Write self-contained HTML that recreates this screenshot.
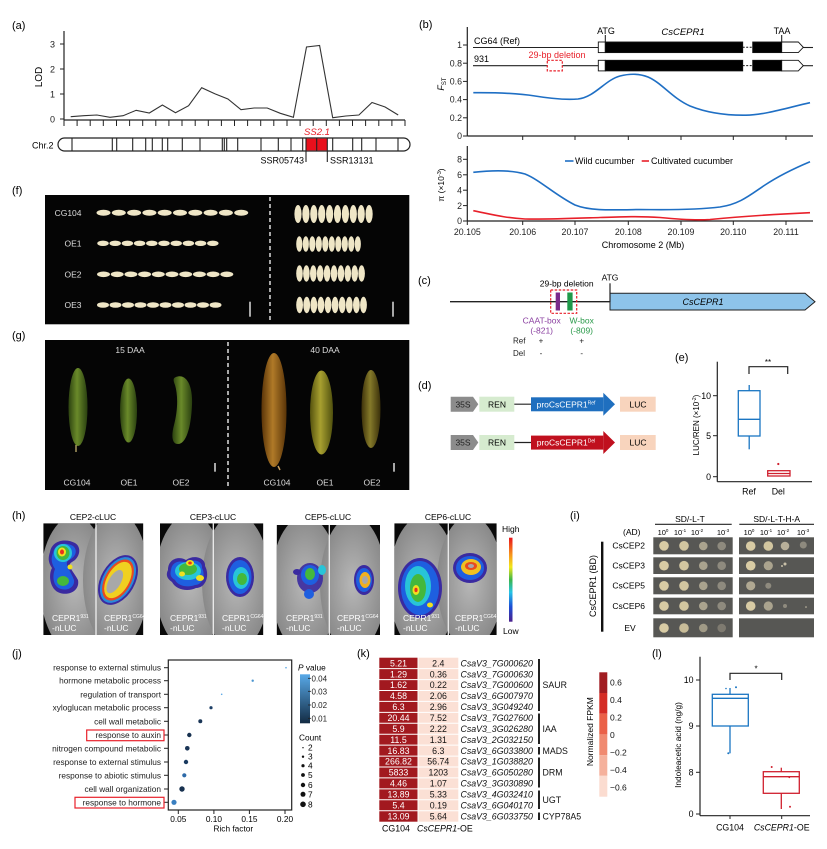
<!DOCTYPE html>
<html><head><meta charset="utf-8"><style>
html,body{margin:0;padding:0;background:#fff;}
svg{display:block;font-family:"Liberation Sans",Arial,sans-serif;}
</style></head><body>
<svg width="827" height="849" viewBox="0 0 827 849" xmlns="http://www.w3.org/2000/svg">
<defs>
<linearGradient id="heat" x1="0" y1="0" x2="0" y2="1">
<stop offset="0" stop-color="#e8141c"/><stop offset="0.2" stop-color="#f7941d"/><stop offset="0.35" stop-color="#f2e81a"/><stop offset="0.5" stop-color="#3cb54a"/><stop offset="0.65" stop-color="#27c4e6"/><stop offset="0.82" stop-color="#1b4fd6"/><stop offset="1" stop-color="#4b1f8c"/>
</linearGradient>
<linearGradient id="pval" x1="0" y1="0" x2="0" y2="1"><stop offset="0" stop-color="#58a9e8"/><stop offset="1" stop-color="#132b43"/></linearGradient>
<linearGradient id="cuc1" x1="0" y1="0" x2="1" y2="0"><stop offset="0" stop-color="#2c4210"/><stop offset="0.45" stop-color="#6a8a2a"/><stop offset="1" stop-color="#2a4010"/></linearGradient>
<linearGradient id="cuc2" x1="0" y1="0" x2="1" y2="0"><stop offset="0" stop-color="#5a3408"/><stop offset="0.45" stop-color="#b07a28"/><stop offset="1" stop-color="#5a3408"/></linearGradient>
<linearGradient id="cuc3" x1="0" y1="0" x2="1" y2="0"><stop offset="0" stop-color="#55520e"/><stop offset="0.45" stop-color="#a8a030"/><stop offset="1" stop-color="#50500e"/></linearGradient>
<linearGradient id="cuc4" x1="0" y1="0" x2="1" y2="0"><stop offset="0" stop-color="#3e320a"/><stop offset="0.45" stop-color="#857a2a"/><stop offset="1" stop-color="#3a300a"/></linearGradient>
<radialGradient id="leaf" cx="0.5" cy="0.5" r="0.6"><stop offset="0" stop-color="#b8b8b8"/><stop offset="1" stop-color="#808080"/></radialGradient>
<clipPath id="c1"><rect x="43.3" y="523.3" width="100" height="111.7"/></clipPath>
<clipPath id="c2"><rect x="160" y="523.3" width="103.3" height="111.7"/></clipPath>
<clipPath id="c3"><rect x="276.7" y="525" width="103.3" height="110"/></clipPath>
<clipPath id="c4"><rect x="394.3" y="523.3" width="102.4" height="111.7"/></clipPath>
</defs>

<!-- ===== Panel (a) ===== -->
<text x="12" y="29" font-size="11">(a)</text>
<line x1="64" y1="31" x2="64" y2="120" stroke="#222" stroke-width="1.2"/>
<g stroke="#222" stroke-width="1">
<line x1="60" y1="119" x2="64" y2="119"/><line x1="60" y1="94" x2="64" y2="94"/><line x1="60" y1="69" x2="64" y2="69"/><line x1="60" y1="44" x2="64" y2="44"/>
</g>
<g font-size="9" text-anchor="end" fill="#222">
<text x="55" y="122.5">0</text><text x="55" y="97.5">1</text><text x="55" y="72.5">2</text><text x="55" y="47.5">3</text>
</g>
<text transform="translate(42,77) rotate(-90)" font-size="10" text-anchor="middle">LOD</text>
<line x1="64" y1="120" x2="405" y2="120" stroke="#222" stroke-width="1.2"/>
<g stroke="#222" stroke-width="1">
<line x1="64" y1="120" x2="64" y2="126"/><line x1="77.1" y1="120" x2="77.1" y2="126"/><line x1="90.2" y1="120" x2="90.2" y2="126"/><line x1="103.3" y1="120" x2="103.3" y2="126"/><line x1="116.5" y1="120" x2="116.5" y2="126"/><line x1="129.6" y1="120" x2="129.6" y2="126"/><line x1="142.7" y1="120" x2="142.7" y2="126"/><line x1="155.8" y1="120" x2="155.8" y2="126"/><line x1="168.9" y1="120" x2="168.9" y2="126"/><line x1="182" y1="120" x2="182" y2="126"/><line x1="195.2" y1="120" x2="195.2" y2="126"/><line x1="208.3" y1="120" x2="208.3" y2="126"/><line x1="221.4" y1="120" x2="221.4" y2="126"/><line x1="234.5" y1="120" x2="234.5" y2="126"/><line x1="247.6" y1="120" x2="247.6" y2="126"/><line x1="260.7" y1="120" x2="260.7" y2="126"/><line x1="273.8" y1="120" x2="273.8" y2="126"/><line x1="287" y1="120" x2="287" y2="126"/><line x1="300.1" y1="120" x2="300.1" y2="126"/><line x1="313.2" y1="120" x2="313.2" y2="126"/><line x1="326.3" y1="120" x2="326.3" y2="126"/><line x1="339.4" y1="120" x2="339.4" y2="126"/><line x1="352.5" y1="120" x2="352.5" y2="126"/><line x1="365.6" y1="120" x2="365.6" y2="126"/><line x1="378.8" y1="120" x2="378.8" y2="126"/><line x1="391.9" y1="120" x2="391.9" y2="126"/><line x1="405" y1="120" x2="405" y2="126"/>
</g>
<polyline fill="none" stroke="#333" stroke-width="1.1" points="70.7,116.7 83.8,115.7 96.9,115 110,117.3 123.1,115.7 136.2,110.3 149.3,113 162.4,105 175.5,112.7 188.6,105.7 201.7,87.7 214.8,93.7 227.9,99 241,109.7 254.1,108 267.2,108 280.3,113.3 293.4,117.3 306.5,47 319.6,45.5 332.7,117.7 345.8,116 358.9,115 372,102.5 385.1,107 398.2,115"/>
<rect x="58" y="138" width="352" height="13" rx="6.5" ry="6.5" fill="#fff" stroke="#222" stroke-width="1.2"/>
<rect x="306" y="138.6" width="21.3" height="11.8" fill="#e8101c"/>
<g stroke="#222" stroke-width="1.1">
<line x1="72" y1="138" x2="72" y2="151"/><line x1="112.3" y1="138" x2="112.3" y2="151"/><line x1="116.7" y1="138" x2="116.7" y2="151"/><line x1="132.7" y1="138" x2="132.7" y2="151"/><line x1="145.7" y1="138" x2="145.7" y2="151"/><line x1="152.3" y1="138" x2="152.3" y2="151"/><line x1="162.3" y1="138" x2="162.3" y2="151"/><line x1="167.7" y1="138" x2="167.7" y2="151"/><line x1="182.3" y1="138" x2="182.3" y2="151"/><line x1="200" y1="138" x2="200" y2="151"/><line x1="222.3" y1="138" x2="222.3" y2="151"/><line x1="224.3" y1="138" x2="224.3" y2="151"/><line x1="226.7" y1="138" x2="226.7" y2="151"/><line x1="237.7" y1="138" x2="237.7" y2="151"/><line x1="261" y1="138" x2="261" y2="151"/><line x1="278.3" y1="138" x2="278.3" y2="151"/><line x1="291" y1="138" x2="291" y2="151"/><line x1="302.7" y1="138" x2="302.7" y2="151"/><line x1="306" y1="138" x2="306" y2="151"/><line x1="316.7" y1="138" x2="316.7" y2="151"/><line x1="327.3" y1="138" x2="327.3" y2="151"/><line x1="332.7" y1="138" x2="332.7" y2="151"/><line x1="352.7" y1="138" x2="352.7" y2="151"/><line x1="361.7" y1="138" x2="361.7" y2="151"/><line x1="376" y1="138" x2="376" y2="151"/><line x1="398" y1="138" x2="398" y2="151"/>
<line x1="306" y1="151" x2="306" y2="162"/><line x1="327.3" y1="151" x2="327.3" y2="162"/>
</g>
<text x="32" y="148.5" font-size="9">Chr.2</text>
<text x="317" y="135" font-size="9.5" font-style="italic" fill="#e8202a" text-anchor="middle">SS2.1</text>
<text x="304" y="163.5" font-size="9" text-anchor="end">SSR05743</text>
<text x="330" y="163.5" font-size="9">SSR13131</text>

<!-- ===== Panel (b) ===== -->
<text x="419" y="28" font-size="11">(b)</text>
<line x1="467.3" y1="27" x2="467.3" y2="136" stroke="#222" stroke-width="1.2"/>
<line x1="467.3" y1="136" x2="813" y2="136" stroke="#222" stroke-width="1.2"/>
<g stroke="#222" stroke-width="1">
<line x1="463" y1="45" x2="467.3" y2="45"/><line x1="463" y1="63.2" x2="467.3" y2="63.2"/><line x1="463" y1="81.4" x2="467.3" y2="81.4"/><line x1="463" y1="99.6" x2="467.3" y2="99.6"/><line x1="463" y1="117.8" x2="467.3" y2="117.8"/><line x1="463" y1="136" x2="467.3" y2="136"/>
<line x1="522.7" y1="136" x2="522.7" y2="140"/><line x1="575" y1="136" x2="575" y2="140"/><line x1="628.3" y1="136" x2="628.3" y2="140"/><line x1="681" y1="136" x2="681" y2="140"/><line x1="733.3" y1="136" x2="733.3" y2="140"/><line x1="786" y1="136" x2="786" y2="140"/>
</g>
<g font-size="8.8" text-anchor="end" fill="#222">
<text x="462" y="48">1</text><text x="462" y="66.3">0.8</text><text x="462" y="84.5">0.6</text><text x="462" y="102.7">0.4</text><text x="462" y="120.9">0.2</text><text x="462" y="139">0</text>
</g>
<text transform="translate(444,84) rotate(-90)" font-size="9" text-anchor="middle"><tspan font-style="italic">F</tspan><tspan font-size="6" dy="2">ST</tspan></text>
<line x1="473" y1="47.5" x2="598" y2="47.5" stroke="#222" stroke-width="1.1"/>
<line x1="803" y1="47.5" x2="813" y2="47.5" stroke="#222" stroke-width="1.1"/>
<line x1="473" y1="65.7" x2="598" y2="65.7" stroke="#222" stroke-width="1.1"/>
<line x1="803" y1="65.7" x2="813" y2="65.7" stroke="#222" stroke-width="1.1"/>
<text x="474" y="44" font-size="9">CG64 (Ref)</text>
<text x="474" y="62" font-size="9">931</text>
<g stroke="#111" stroke-width="0.9">
<rect x="598.3" y="42" width="7" height="10.6" fill="#fff"/>
<rect x="605.3" y="42" width="137.4" height="10.6" fill="#000"/>
<rect x="752.7" y="42" width="29" height="10.6" fill="#000"/>
<polygon points="781.7,42 798.3,42 803.3,47.3 798.3,52.6 781.7,52.6" fill="#fff"/>
<rect x="598.3" y="60.3" width="7" height="10.6" fill="#fff"/>
<rect x="605.3" y="60.3" width="137.4" height="10.6" fill="#000"/>
<rect x="752.7" y="60.3" width="29" height="10.6" fill="#000"/>
<polygon points="781.7,60.3 798.3,60.3 803.3,65.6 798.3,70.9 781.7,70.9" fill="#fff"/>
</g>
<line x1="742.7" y1="47.3" x2="752.7" y2="47.3" stroke="#111" stroke-width="1" stroke-dasharray="2,1.5"/>
<line x1="742.7" y1="65.6" x2="752.7" y2="65.6" stroke="#111" stroke-width="1" stroke-dasharray="2,1.5"/>
<line x1="605.3" y1="35" x2="605.3" y2="42" stroke="#111" stroke-width="1"/>
<line x1="781.7" y1="35" x2="781.7" y2="42" stroke="#111" stroke-width="1"/>
<text x="606" y="34" font-size="9" text-anchor="middle">ATG</text>
<text x="782" y="34" font-size="9" text-anchor="middle">TAA</text>
<text x="683" y="35" font-size="9.5" font-style="italic" text-anchor="middle">CsCEPR1</text>
<text x="557" y="58" font-size="9" fill="#e8202a" text-anchor="middle">29-bp deletion</text>
<rect x="547.3" y="60.3" width="15" height="10.6" fill="#fff" stroke="#e8202a" stroke-width="1.2" stroke-dasharray="2.5,1.5"/>
<path d="M473.3,92.7 C495,92.5 515,92.8 535,96 C552,98.8 565,100 578,99 C595,97 605,80 620,76 C628,74 638,73 648,77 C662,83 672,98 690,106 C705,112 725,115.5 746,115.2 C765,115 790,107 810,102.7" fill="none" stroke="#1f6fc4" stroke-width="1.6"/>
<line x1="467.3" y1="146" x2="467.3" y2="221" stroke="#222" stroke-width="1.2"/>
<line x1="467.3" y1="221" x2="813" y2="221" stroke="#222" stroke-width="1.2"/>
<g stroke="#222" stroke-width="1">
<line x1="463" y1="159.3" x2="467.3" y2="159.3"/><line x1="463" y1="174.8" x2="467.3" y2="174.8"/><line x1="463" y1="190.2" x2="467.3" y2="190.2"/><line x1="463" y1="205.6" x2="467.3" y2="205.6"/><line x1="463" y1="221" x2="467.3" y2="221"/>
<line x1="467.3" y1="221" x2="467.3" y2="225"/><line x1="522.7" y1="221" x2="522.7" y2="225"/><line x1="575" y1="221" x2="575" y2="225"/><line x1="628.3" y1="221" x2="628.3" y2="225"/><line x1="681" y1="221" x2="681" y2="225"/><line x1="733.3" y1="221" x2="733.3" y2="225"/><line x1="786" y1="221" x2="786" y2="225"/>
</g>
<g font-size="8.8" text-anchor="end" fill="#222">
<text x="462" y="162.5">8</text><text x="462" y="178">6</text><text x="462" y="193.4">4</text><text x="462" y="208.8">2</text><text x="462" y="224.2">0</text>
</g>
<g font-size="8.8" text-anchor="middle" fill="#222">
<text x="467.3" y="235">20.105</text><text x="522.7" y="235">20.106</text><text x="575" y="235">20.107</text><text x="628.3" y="235">20.108</text><text x="681" y="235">20.109</text><text x="733.3" y="235">20.110</text><text x="786" y="235">20.111</text>
</g>
<text x="643" y="248" font-size="9" text-anchor="middle">Chromosome 2 (Mb)</text>
<text transform="translate(444,185) rotate(-90)" font-size="8.5" text-anchor="middle">π (×10<tspan font-size="5.5" dy="-3">-3</tspan><tspan dy="3">)</tspan></text>
<path d="M473.3,172.3 C490,170.5 510,169.5 525,174 C540,180 555,195 575,205 C590,211 610,210 640,209.5 C670,210 700,209.5 720,207 C740,204 750,195 765,185 C780,175 795,168 810,161.7" fill="none" stroke="#1f6fc4" stroke-width="1.6"/>
<path d="M473.3,210.7 C490,214 505,218 525,219 C545,219.5 570,218.5 600,217.5 C620,216.8 640,216 660,217.5 C680,219.5 695,220.5 710,219.5 C735,217 770,214.5 810,212.7" fill="none" stroke="#e8202a" stroke-width="1.6"/>
<line x1="565" y1="161" x2="573.5" y2="161" stroke="#1f6fc4" stroke-width="1.6"/>
<text x="575" y="164.2" font-size="9">Wild cucumber</text>
<line x1="641.7" y1="161" x2="649" y2="161" stroke="#e8202a" stroke-width="1.6"/>
<text x="651" y="164.2" font-size="9">Cultivated cucumber</text>

<!-- ===== Panel (f) ===== -->
<text x="12" y="194" font-size="11">(f)</text>
<rect x="45" y="195" width="364.3" height="129.3" fill="#050505"/>
<line x1="270" y1="197" x2="270" y2="323" stroke="#fff" stroke-width="1.3" stroke-dasharray="4,3"/>
<g font-size="8.5" fill="#ddd" text-anchor="end">
<text x="81.5" y="216">CG104</text><text x="81.5" y="246.5">OE1</text><text x="81.5" y="277.5">OE2</text><text x="81.5" y="308">OE3</text>
</g>
<g fill="#efe6c6">
<ellipse cx="103.5" cy="212.7" rx="7" ry="3"/><ellipse cx="118.8" cy="212.7" rx="7" ry="3"/><ellipse cx="134.1" cy="212.7" rx="7" ry="3"/><ellipse cx="149.4" cy="212.7" rx="7" ry="3"/><ellipse cx="164.7" cy="212.7" rx="7" ry="3"/><ellipse cx="180" cy="212.7" rx="7" ry="3"/><ellipse cx="195.3" cy="212.7" rx="7" ry="3"/><ellipse cx="210.6" cy="212.7" rx="7" ry="3"/><ellipse cx="225.9" cy="212.7" rx="7" ry="3"/><ellipse cx="241.2" cy="212.7" rx="7" ry="3"/>
<ellipse cx="103" cy="243.3" rx="5.8" ry="2.7"/><ellipse cx="115.2" cy="243.3" rx="5.8" ry="2.7"/><ellipse cx="127.4" cy="243.3" rx="5.8" ry="2.7"/><ellipse cx="139.6" cy="243.3" rx="5.8" ry="2.7"/><ellipse cx="151.8" cy="243.3" rx="5.8" ry="2.7"/><ellipse cx="164" cy="243.3" rx="5.8" ry="2.7"/><ellipse cx="176.2" cy="243.3" rx="5.8" ry="2.7"/><ellipse cx="188.4" cy="243.3" rx="5.8" ry="2.7"/><ellipse cx="200.6" cy="243.3" rx="5.8" ry="2.7"/><ellipse cx="212.8" cy="243.3" rx="5.8" ry="2.7"/>
<ellipse cx="103.5" cy="274.3" rx="6.5" ry="2.8"/><ellipse cx="117.2" cy="274.3" rx="6.5" ry="2.8"/><ellipse cx="130.9" cy="274.3" rx="6.5" ry="2.8"/><ellipse cx="144.6" cy="274.3" rx="6.5" ry="2.8"/><ellipse cx="158.3" cy="274.3" rx="6.5" ry="2.8"/><ellipse cx="172" cy="274.3" rx="6.5" ry="2.8"/><ellipse cx="185.7" cy="274.3" rx="6.5" ry="2.8"/><ellipse cx="199.4" cy="274.3" rx="6.5" ry="2.8"/><ellipse cx="213.1" cy="274.3" rx="6.5" ry="2.8"/><ellipse cx="226.8" cy="274.3" rx="6.5" ry="2.8"/>
<ellipse cx="103" cy="305" rx="6" ry="2.8"/><ellipse cx="115.5" cy="305" rx="6" ry="2.8"/><ellipse cx="128" cy="305" rx="6" ry="2.8"/><ellipse cx="140.5" cy="305" rx="6" ry="2.8"/><ellipse cx="153" cy="305" rx="6" ry="2.8"/><ellipse cx="165.5" cy="305" rx="6" ry="2.8"/><ellipse cx="178" cy="305" rx="6" ry="2.8"/><ellipse cx="190.5" cy="305" rx="6" ry="2.8"/><ellipse cx="203" cy="305" rx="6" ry="2.8"/><ellipse cx="215.5" cy="305" rx="6" ry="2.8"/>
<ellipse cx="298" cy="214" rx="3.6" ry="9"/><ellipse cx="305.9" cy="214" rx="3.6" ry="9"/><ellipse cx="313.8" cy="214" rx="3.6" ry="9"/><ellipse cx="321.7" cy="214" rx="3.6" ry="9"/><ellipse cx="329.6" cy="214" rx="3.6" ry="9"/><ellipse cx="337.5" cy="214" rx="3.6" ry="9"/><ellipse cx="345.4" cy="214" rx="3.6" ry="9"/><ellipse cx="353.3" cy="214" rx="3.6" ry="9"/><ellipse cx="361.2" cy="214" rx="3.6" ry="9"/><ellipse cx="369.1" cy="214" rx="3.6" ry="9"/>
<ellipse cx="299.3" cy="244" rx="3.1" ry="7.8"/><ellipse cx="305.8" cy="244" rx="3.1" ry="7.8"/><ellipse cx="312.3" cy="244" rx="3.1" ry="7.8"/><ellipse cx="318.8" cy="244" rx="3.1" ry="7.8"/><ellipse cx="325.3" cy="244" rx="3.1" ry="7.8"/><ellipse cx="331.8" cy="244" rx="3.1" ry="7.8"/><ellipse cx="338.3" cy="244" rx="3.1" ry="7.8"/><ellipse cx="344.8" cy="244" rx="3.1" ry="7.8"/><ellipse cx="351.3" cy="244" rx="3.1" ry="7.8"/><ellipse cx="357.8" cy="244" rx="3.1" ry="7.8"/>
<ellipse cx="299.5" cy="273.5" rx="3.3" ry="8.2"/><ellipse cx="306.4" cy="273.5" rx="3.3" ry="8.2"/><ellipse cx="313.3" cy="273.5" rx="3.3" ry="8.2"/><ellipse cx="320.2" cy="273.5" rx="3.3" ry="8.2"/><ellipse cx="327.1" cy="273.5" rx="3.3" ry="8.2"/><ellipse cx="334" cy="273.5" rx="3.3" ry="8.2"/><ellipse cx="340.9" cy="273.5" rx="3.3" ry="8.2"/><ellipse cx="347.8" cy="273.5" rx="3.3" ry="8.2"/><ellipse cx="354.7" cy="273.5" rx="3.3" ry="8.2"/><ellipse cx="361.6" cy="273.5" rx="3.3" ry="8.2"/>
<ellipse cx="299.6" cy="305" rx="3.4" ry="8.2"/><ellipse cx="306.7" cy="305" rx="3.4" ry="8.2"/><ellipse cx="313.8" cy="305" rx="3.4" ry="8.2"/><ellipse cx="320.9" cy="305" rx="3.4" ry="8.2"/><ellipse cx="328" cy="305" rx="3.4" ry="8.2"/><ellipse cx="335.1" cy="305" rx="3.4" ry="8.2"/><ellipse cx="342.2" cy="305" rx="3.4" ry="8.2"/><ellipse cx="349.3" cy="305" rx="3.4" ry="8.2"/><ellipse cx="356.4" cy="305" rx="3.4" ry="8.2"/><ellipse cx="363.5" cy="305" rx="3.4" ry="8.2"/>
</g>
<line x1="250" y1="301.7" x2="250" y2="316.7" stroke="#fff" stroke-width="1.3"/>
<line x1="393" y1="301.7" x2="393" y2="316.7" stroke="#fff" stroke-width="1.3"/>

<!-- ===== Panel (g) ===== -->
<text x="12" y="339" font-size="11">(g)</text>
<rect x="45" y="340" width="364.3" height="150" fill="#050505"/>
<line x1="228" y1="342" x2="228" y2="488" stroke="#fff" stroke-width="1.3" stroke-dasharray="4,3"/>
<text x="130" y="353" font-size="8.5" fill="#ddd" text-anchor="middle">15 DAA</text>
<text x="325" y="353" font-size="8.5" fill="#ddd" text-anchor="middle">40 DAA</text>
<ellipse cx="78" cy="407" rx="9.5" ry="39" fill="url(#cuc1)"/>
<line x1="76" y1="445" x2="76" y2="452" stroke="#a89a60" stroke-width="1.5"/>
<ellipse cx="128.5" cy="410.5" rx="8.5" ry="32" fill="url(#cuc1)"/>
<path d="M176,377 C186,373 193,385 192,405 C191,428 186,444 178,444 C172,444 171,436 174,425 C178,410 178,395 175,385 C173,380 173,378 176,377 Z" fill="url(#cuc1)"/>
<ellipse cx="274" cy="410" rx="12.5" ry="57" fill="url(#cuc2)"/>
<line x1="278" y1="466" x2="280" y2="470" stroke="#c8a060" stroke-width="1.5"/>
<ellipse cx="321.5" cy="412.5" rx="11.5" ry="42" fill="url(#cuc3)"/>
<ellipse cx="371" cy="409" rx="9.5" ry="39" fill="url(#cuc4)"/>
<line x1="215" y1="463" x2="215" y2="471.7" stroke="#fff" stroke-width="1.3"/>
<line x1="394" y1="463" x2="394" y2="471.7" stroke="#fff" stroke-width="1.3"/>
<g font-size="8.5" fill="#ddd" text-anchor="middle">
<text x="77" y="485.5">CG104</text><text x="129" y="485.5">OE1</text><text x="181" y="485.5">OE2</text>
<text x="277" y="485.5">CG104</text><text x="325" y="485.5">OE1</text><text x="372" y="485.5">OE2</text>
</g>

<!-- ===== Panel (c) ===== -->
<text x="418" y="284" font-size="11">(c)</text>
<line x1="450" y1="301.7" x2="610" y2="301.7" stroke="#222" stroke-width="1.3"/>
<polygon points="610,293.3 805,293.3 815,301.7 805,310 610,310" fill="#8ec4ea" stroke="#222" stroke-width="1"/>
<text x="703" y="305" font-size="9" font-style="italic" text-anchor="middle">CsCEPR1</text>
<line x1="610" y1="283.3" x2="610" y2="302" stroke="#222" stroke-width="1.2"/>
<text x="610" y="280.5" font-size="8.5" text-anchor="middle">ATG</text>
<text x="566.7" y="286.5" font-size="8.5" text-anchor="middle">29-bp deletion</text>
<rect x="550.7" y="290" width="26" height="23.3" fill="none" stroke="#e8202a" stroke-width="1.2" stroke-dasharray="2.5,1.5"/>
<rect x="555.7" y="292.5" width="4.3" height="18" fill="#7a2a8c"/>
<rect x="567.3" y="292.5" width="5.3" height="18" fill="#1f9a4a"/>
<text x="541.7" y="323.5" font-size="8.5" fill="#8a3fa0" text-anchor="middle">CAAT-box</text>
<text x="541.7" y="333.5" font-size="8.5" fill="#8a3fa0" text-anchor="middle">(-821)</text>
<text x="581.7" y="323.5" font-size="8.5" fill="#2a9a4a" text-anchor="middle">W-box</text>
<text x="581.7" y="333.5" font-size="8.5" fill="#2a9a4a" text-anchor="middle">(-809)</text>
<g font-size="8" fill="#222">
<text x="513" y="343.5">Ref</text><text x="513" y="356">Del</text>
<text x="541" y="343.5" text-anchor="middle">+</text><text x="581.7" y="343.5" text-anchor="middle">+</text>
<text x="541" y="356" text-anchor="middle">-</text><text x="581.7" y="356" text-anchor="middle">-</text>
</g>

<!-- ===== Panel (d) ===== -->
<text x="418" y="389" font-size="11">(d)</text>
<g>
<polygon points="450.7,396.7 473,396.7 478.3,404.2 473,411.7 450.7,411.7" fill="#8c8c8c"/>
<text x="463" y="407.3" font-size="8.5" text-anchor="middle" fill="#222">35S</text>
<rect x="479.3" y="396.7" width="35" height="15" fill="#d6ebcf"/>
<text x="497" y="407.3" font-size="8.5" text-anchor="middle">REN</text>
<line x1="514.3" y1="404.2" x2="531" y2="404.2" stroke="#222" stroke-width="1.2"/>
<rect x="531" y="397.3" width="72.3" height="14" fill="#1f6fbf"/>
<polygon points="603.3,392.7 615,404.2 603.3,415.7" fill="#1f6fbf"/>
<text x="566" y="407.3" font-size="8.5" text-anchor="middle" fill="#fff">proCsCEPR1<tspan font-size="5" dy="-3">Ref</tspan></text>
<rect x="620" y="396.7" width="35.7" height="15" fill="#f8d4bd"/>
<text x="638" y="407.3" font-size="8.5" text-anchor="middle">LUC</text>
</g>
<g>
<polygon points="450.7,435 473,435 478.3,442.5 473,450 450.7,450" fill="#8c8c8c"/>
<text x="463" y="445.6" font-size="8.5" text-anchor="middle" fill="#222">35S</text>
<rect x="479.3" y="435" width="35" height="15" fill="#d6ebcf"/>
<text x="497" y="445.6" font-size="8.5" text-anchor="middle">REN</text>
<line x1="514.3" y1="442.5" x2="531" y2="442.5" stroke="#222" stroke-width="1.2"/>
<rect x="531" y="435.6" width="72.3" height="14" fill="#c0101e"/>
<polygon points="603.3,431 615,442.5 603.3,454" fill="#c0101e"/>
<text x="566" y="445.6" font-size="8.5" text-anchor="middle" fill="#fff">proCsCEPR1<tspan font-size="5" dy="-3">Del</tspan></text>
<rect x="620" y="435" width="35.7" height="15" fill="#f8d4bd"/>
<text x="638" y="445.6" font-size="8.5" text-anchor="middle">LUC</text>
</g>

<!-- ===== Panel (e) ===== -->
<text x="675" y="361" font-size="11">(e)</text>
<line x1="717.3" y1="361.7" x2="717.3" y2="481.7" stroke="#222" stroke-width="1.2"/>
<line x1="717.3" y1="481.7" x2="812" y2="481.7" stroke="#222" stroke-width="1.2"/>
<g stroke="#222" stroke-width="1">
<line x1="713" y1="395.7" x2="717.3" y2="395.7"/><line x1="713" y1="435.7" x2="717.3" y2="435.7"/><line x1="713" y1="476.7" x2="717.3" y2="476.7"/>
</g>
<g font-size="8.8" text-anchor="end"><text x="711" y="398.8">10</text><text x="711" y="438.8">5</text><text x="711" y="479.8">0</text></g>
<text transform="translate(699,425) rotate(-90)" font-size="8" text-anchor="middle">LUC/REN (×10<tspan font-size="5" dy="-3">-2</tspan><tspan dy="3">)</tspan></text>
<g stroke="#1a75c2" stroke-width="1.3" fill="none">
<rect x="738.3" y="390.7" width="21.7" height="45.3"/>
<line x1="738.3" y1="419.3" x2="760" y2="419.3"/>
<line x1="749.2" y1="385" x2="749.2" y2="390.7"/>
<line x1="749.2" y1="436" x2="749.2" y2="449.3"/>
</g>
<g stroke="#d0202e" stroke-width="1.3" fill="none">
<rect x="767.7" y="470.7" width="22.3" height="5.3"/>
<line x1="767.7" y1="473.5" x2="790" y2="473.5"/>
</g>
<circle cx="778.3" cy="464" r="1.1" fill="#d0202e"/>
<path d="M749,374 V366.7 H787.7 V374" fill="none" stroke="#222" stroke-width="1.2"/>
<text x="768" y="365" font-size="8" text-anchor="middle">**</text>
<text x="749" y="494.5" font-size="8.8" text-anchor="middle">Ref</text>
<text x="778.3" y="494.5" font-size="8.8" text-anchor="middle">Del</text>

<!-- ===== Panel (h) ===== -->
<text x="12" y="519" font-size="11">(h)</text>
<g font-size="8.5" text-anchor="middle">
<text x="93" y="520">CEP2-cLUC</text><text x="213" y="520">CEP3-cLUC</text><text x="328" y="520">CEP5-cLUC</text><text x="448" y="520">CEP6-cLUC</text>
</g>
<g clip-path="url(#c1)">
<rect x="43.3" y="523.3" width="100" height="111.7" fill="#0a0a0a"/>
<ellipse cx="74" cy="584" rx="34" ry="68" fill="url(#leaf)"/>
<ellipse cx="116" cy="580" rx="33" ry="68" fill="url(#leaf)"/>
<path d="M50,552 C52,540 66,538 75,543 C82,547 80,558 72,562 C66,565 74,572 78,580 C80,590 70,596 60,593 C50,590 48,575 52,568 C48,562 48,558 50,552 Z" fill="#3a2aa0"/>
<path d="M53,553 C55,543 66,542 73,546 C78,550 76,557 69,560 C63,563 71,571 74,580 C75,587 68,591 61,589 C53,587 52,576 55,569 C51,563 51,558 53,553 Z" fill="#1e5fe0"/>
<ellipse cx="63" cy="553" rx="9" ry="9" fill="#28c4d8"/>
<ellipse cx="63" cy="553" rx="6.5" ry="7" fill="#44b83c"/>
<ellipse cx="63" cy="581" rx="6" ry="5" fill="#44b83c"/>
<ellipse cx="62" cy="552" rx="4" ry="4.5" fill="#f0e020"/>
<ellipse cx="62" cy="552" rx="2" ry="2.5" fill="#e83020"/>
<ellipse cx="70" cy="567" rx="2.5" ry="2.5" fill="#f0e020"/>
<ellipse cx="118" cy="580" rx="17" ry="27" transform="rotate(30 118 580)" fill="#3a2aa0"/>
<ellipse cx="118" cy="580" rx="15" ry="25" transform="rotate(30 118 580)" fill="#2a8ad8"/>
<ellipse cx="118" cy="580" rx="13" ry="22.5" transform="rotate(30 118 580)" fill="#e84a20"/>
<ellipse cx="118" cy="580" rx="11" ry="20" transform="rotate(30 118 580)" fill="#f0d020"/>
<ellipse cx="116" cy="583" rx="6" ry="13" transform="rotate(30 118 580)" fill="#a8a8a8"/>
<line x1="96" y1="523" x2="96" y2="635" stroke="#eee" stroke-width="1.3"/>
</g>
<g clip-path="url(#c2)">
<rect x="160" y="523.3" width="103.3" height="111.7" fill="#0a0a0a"/>
<ellipse cx="190" cy="582" rx="35" ry="68" fill="url(#leaf)"/>
<ellipse cx="236" cy="582" rx="34" ry="68" fill="url(#leaf)"/>
<path d="M168,570 C168,558 180,556 186,560 C194,554 206,558 205,566 C210,575 206,588 196,588 C188,592 176,590 172,582 C166,578 166,574 168,570 Z" fill="#3a2aa0"/>
<path d="M171,570 C172,561 181,560 186,563 C193,558 203,561 202,568 C206,576 202,585 195,585 C188,588 178,586 175,580 C170,577 170,574 171,570 Z" fill="#1e5fe0"/>
<ellipse cx="188" cy="571" rx="13" ry="9" fill="#28c4d8"/>
<ellipse cx="188" cy="569" rx="9" ry="6" fill="#44b83c"/>
<ellipse cx="190" cy="563" rx="4" ry="3" fill="#f0e020"/>
<ellipse cx="200" cy="578" rx="4" ry="3" fill="#f0e020"/>
<ellipse cx="182" cy="574" rx="3" ry="2.5" fill="#f0e020"/>
<ellipse cx="190" cy="563" rx="1.8" ry="1.5" fill="#e83020"/>
<ellipse cx="240" cy="577" rx="14" ry="20" fill="#3a2aa0"/>
<ellipse cx="240" cy="577" rx="11.5" ry="17" fill="#1e5fe0"/>
<ellipse cx="241" cy="578" rx="8" ry="11" fill="#28c4d8"/>
<ellipse cx="242" cy="579" rx="5" ry="6" fill="#44b83c"/>
<line x1="213.3" y1="523" x2="213.3" y2="635" stroke="#eee" stroke-width="1.3"/>
</g>
<g clip-path="url(#c3)">
<rect x="276.7" y="525" width="103.3" height="110" fill="#0a0a0a"/>
<ellipse cx="305" cy="584" rx="34" ry="68" fill="url(#leaf)"/>
<ellipse cx="353" cy="584" rx="33" ry="68" fill="url(#leaf)"/>
<ellipse cx="310" cy="578" rx="13" ry="15" fill="#3a2aa0" opacity="0.9"/>
<ellipse cx="310" cy="575" rx="9" ry="10" fill="#1e5fe0"/>
<ellipse cx="310" cy="574" rx="5" ry="6" fill="#44b83c"/>
<ellipse cx="309" cy="594" rx="5" ry="5" fill="#1e5fe0"/>
<ellipse cx="322" cy="570" rx="4" ry="5" fill="#28c4d8"/>
<ellipse cx="297" cy="572" rx="4" ry="3" fill="#3a2aa0"/>
<ellipse cx="364" cy="580" rx="10" ry="15" fill="#3a2aa0"/>
<ellipse cx="364" cy="580" rx="8" ry="12" fill="#1e5fe0"/>
<ellipse cx="365" cy="580" rx="5.5" ry="8" fill="#f0b020"/>
<ellipse cx="365" cy="580" rx="3" ry="4" fill="#a8a8a8"/>
<line x1="329.3" y1="525" x2="329.3" y2="635" stroke="#eee" stroke-width="1.3"/>
</g>
<g clip-path="url(#c4)">
<rect x="394.3" y="523.3" width="102.4" height="111.7" fill="#0a0a0a"/>
<ellipse cx="423" cy="584" rx="34" ry="68" fill="url(#leaf)"/>
<ellipse cx="470" cy="582" rx="33" ry="66" fill="url(#leaf)"/>
<ellipse cx="420" cy="588" rx="22" ry="30" fill="#3a2aa0"/>
<ellipse cx="420" cy="588" rx="19" ry="27" fill="#1e5fe0"/>
<ellipse cx="418" cy="586" rx="13" ry="20" fill="#28c4d8"/>
<ellipse cx="418" cy="588" rx="8" ry="14" fill="#44b83c"/>
<ellipse cx="416" cy="590" rx="3.5" ry="5" fill="#f0e020"/>
<ellipse cx="416" cy="590" rx="1.6" ry="2.2" fill="#e83020"/>
<ellipse cx="430" cy="605" rx="3" ry="2.5" fill="#f0e020"/>
<ellipse cx="470" cy="568" rx="17" ry="15" fill="#3a2aa0"/>
<ellipse cx="470" cy="568" rx="14" ry="12" fill="#1e5fe0"/>
<ellipse cx="471" cy="567" rx="10" ry="8" fill="#f0c020"/>
<ellipse cx="471" cy="566" rx="6" ry="4" fill="#e84a20"/>
<ellipse cx="471" cy="566" rx="3" ry="2" fill="#a8a8a8"/>
<line x1="448.3" y1="523" x2="448.3" y2="635" stroke="#eee" stroke-width="1.3"/>
</g>
<g font-size="8.5" fill="#fff">
<text x="52" y="621">CEPR1<tspan font-size="5" dy="-3">931</tspan></text><text x="52" y="631">-nLUC</text>
<text x="104" y="621">CEPR1<tspan font-size="5" dy="-3">CG64</tspan></text><text x="104" y="631">-nLUC</text>
<text x="170" y="621">CEPR1<tspan font-size="5" dy="-3">931</tspan></text><text x="170" y="631">-nLUC</text>
<text x="222" y="621">CEPR1<tspan font-size="5" dy="-3">CG64</tspan></text><text x="222" y="631">-nLUC</text>
<text x="286" y="621">CEPR1<tspan font-size="5" dy="-3">931</tspan></text><text x="286" y="631">-nLUC</text>
<text x="337" y="621">CEPR1<tspan font-size="5" dy="-3">CG64</tspan></text><text x="337" y="631">-nLUC</text>
<text x="403" y="621">CEPR1<tspan font-size="5" dy="-3">931</tspan></text><text x="403" y="631">-nLUC</text>
<text x="455" y="621">CEPR1<tspan font-size="5" dy="-3">CG64</tspan></text><text x="455" y="631">-nLUC</text>
</g>
<rect x="509" y="537.7" width="3.5" height="84" fill="url(#heat)"/>
<text x="502" y="532" font-size="8.5">High</text>
<text x="503" y="634" font-size="8.5">Low</text>

<!-- ===== Panel (i) ===== -->
<text x="570" y="519" font-size="11">(i)</text>
<text x="690" y="522" font-size="8.5" text-anchor="middle">SD/-L-T</text>
<text x="776.7" y="522" font-size="8.5" text-anchor="middle">SD/-L-T-H-A</text>
<line x1="655" y1="524.3" x2="731.7" y2="524.3" stroke="#222" stroke-width="1.1"/>
<line x1="739.3" y1="524.3" x2="814" y2="524.3" stroke="#222" stroke-width="1.1"/>
<text x="623" y="535" font-size="8.5">(AD)</text>
<g font-size="7.5" text-anchor="middle">
<text x="663" y="535">10<tspan font-size="4.5" dy="-3">0</tspan></text>
<text x="680" y="535">10<tspan font-size="4.5" dy="-3">-1</tspan></text>
<text x="697" y="535">10<tspan font-size="4.5" dy="-3">-2</tspan></text>
<text x="723" y="535">10<tspan font-size="4.5" dy="-3">-3</tspan></text>
<text x="749" y="535">10<tspan font-size="4.5" dy="-3">0</tspan></text>
<text x="766" y="535">10<tspan font-size="4.5" dy="-3">-1</tspan></text>
<text x="783" y="535">10<tspan font-size="4.5" dy="-3">-2</tspan></text>
<text x="803" y="535">10<tspan font-size="4.5" dy="-3">-3</tspan></text>
</g>
<g fill="#575754">
<rect x="653.3" y="537.3" width="79.4" height="17"/><rect x="653.3" y="557.3" width="79.4" height="16.7"/><rect x="653.3" y="577.3" width="79.4" height="17"/><rect x="653.3" y="597.7" width="79.4" height="16.6"/><rect x="653.3" y="618.3" width="79.4" height="19"/>
<rect x="739" y="537.3" width="75" height="17"/><rect x="739" y="557.3" width="75" height="16.7"/><rect x="739" y="577.3" width="75" height="17"/><rect x="739" y="597.7" width="75" height="16.6"/><rect x="739" y="618.3" width="75" height="19"/>
</g>
<g>
<circle cx="664" cy="545.8" r="4.8" fill="#d8cba4"/><circle cx="684" cy="545.8" r="4.8" fill="#d2c6a0"/><circle cx="703.3" cy="546" r="4.3" fill="#aaa38e"/><circle cx="721.7" cy="546" r="4.3" fill="#8e8a7e"/>
<circle cx="664" cy="565.7" r="4.8" fill="#d8cba4"/><circle cx="684" cy="565.7" r="4.8" fill="#d2c6a0"/><circle cx="703.3" cy="565.7" r="4.3" fill="#aaa38e"/><circle cx="721.7" cy="565.7" r="4.3" fill="#8e8a7e"/>
<circle cx="664" cy="585.8" r="4.8" fill="#d8cba4"/><circle cx="684" cy="585.8" r="4.8" fill="#d2c6a0"/><circle cx="703.3" cy="585.8" r="4.3" fill="#aaa38e"/><circle cx="721.7" cy="585.8" r="4.3" fill="#8e8a7e"/>
<circle cx="664" cy="606" r="4.8" fill="#d8cba4"/><circle cx="684" cy="606" r="4.8" fill="#d2c6a0"/><circle cx="703.3" cy="606" r="4.3" fill="#aaa38e"/><circle cx="721.7" cy="606" r="4.3" fill="#8e8a7e"/>
<circle cx="664" cy="628" r="4.8" fill="#d8cba4"/><circle cx="684" cy="628" r="4.8" fill="#c8bc98"/><circle cx="703.3" cy="628" r="4.3" fill="#a09a86"/><circle cx="721.7" cy="628" r="4.3" fill="#7e7a70"/>
<circle cx="750.7" cy="546" r="4.8" fill="#d8cba4"/><circle cx="768.3" cy="546" r="4.8" fill="#d2c6a0"/><circle cx="785" cy="546" r="4.3" fill="#b8b09a"/><circle cx="803.3" cy="545" r="3.5" fill="#8e8a7e"/>
<circle cx="750.7" cy="565.7" r="4.8" fill="#d8cba4"/><circle cx="768.3" cy="565.7" r="4.6" fill="#aaa38e"/><circle cx="785" cy="564" r="1.5" fill="#c8c0a8"/><circle cx="782" cy="566" r="1" fill="#c8c0a8"/>
<circle cx="750.7" cy="585.8" r="4.6" fill="#b0a892"/><circle cx="768.3" cy="585.8" r="3" fill="#8e8a7e"/>
<circle cx="750.7" cy="606" r="4.8" fill="#d8cba4"/><circle cx="768.3" cy="606" r="4.6" fill="#aaa38e"/><circle cx="785" cy="606" r="2" fill="#8e8a7e"/><circle cx="806" cy="607" r="0.8" fill="#c8c0a8"/>
</g>
<rect x="601" y="541.7" width="2.4" height="90" fill="#111"/>
<text transform="translate(596,586) rotate(-90)" font-size="9" text-anchor="middle">CsCEPR1 (BD)</text>
<g font-size="8.5" text-anchor="end">
<text x="645" y="548.7">CsCEP2</text><text x="645" y="568.7">CsCEP3</text><text x="645" y="588.7">CsCEP5</text><text x="645" y="609">CsCEP6</text>
</g>
<text x="630" y="631" font-size="8.5" text-anchor="middle">EV</text>

<!-- ===== Panel (j) ===== -->
<text x="12" y="657" font-size="11">(j)</text>
<rect x="168.3" y="660" width="123.4" height="150" fill="#fff" stroke="#222" stroke-width="1.2"/>
<g stroke="#222" stroke-width="1">
<line x1="164" y1="667.7" x2="168.3" y2="667.7"/><line x1="164" y1="680.7" x2="168.3" y2="680.7"/><line x1="164" y1="694.3" x2="168.3" y2="694.3"/><line x1="164" y1="707.7" x2="168.3" y2="707.7"/><line x1="164" y1="721.3" x2="168.3" y2="721.3"/><line x1="164" y1="735" x2="168.3" y2="735"/><line x1="164" y1="748.3" x2="168.3" y2="748.3"/><line x1="164" y1="762" x2="168.3" y2="762"/><line x1="164" y1="775.3" x2="168.3" y2="775.3"/><line x1="164" y1="789" x2="168.3" y2="789"/><line x1="164" y1="802.3" x2="168.3" y2="802.3"/>
<line x1="178.3" y1="810" x2="178.3" y2="814"/><line x1="213.9" y1="810" x2="213.9" y2="814"/><line x1="249.4" y1="810" x2="249.4" y2="814"/><line x1="285" y1="810" x2="285" y2="814"/>
</g>
<g font-size="8.3" text-anchor="end" fill="#222">
<text x="161" y="670.7">response to external stimulus</text>
<text x="161" y="683.7">hormone metabolic process</text>
<text x="161" y="697.3">regulation of transport</text>
<text x="161" y="710.7">xyloglucan metabolic process</text>
<text x="161" y="724.3">cell wall metabolic</text>
<text x="161" y="738">response to auxin</text>
<text x="161" y="751.3">nitrogen compound metabolic</text>
<text x="161" y="765">response to external stimulus</text>
<text x="161" y="778.3">response to abiotic stimulus</text>
<text x="161" y="792">cell wall organization</text>
<text x="161" y="805.3">response to hormone</text>
</g>
<rect x="86.7" y="730" width="77.3" height="10.7" fill="none" stroke="#e8202a" stroke-width="1.2"/>
<rect x="75" y="797.3" width="89" height="10.7" fill="none" stroke="#e8202a" stroke-width="1.2"/>
<g font-size="8.3" text-anchor="middle">
<text x="178.3" y="822">0.05</text><text x="213.9" y="822">0.10</text><text x="249.4" y="822">0.15</text><text x="285" y="822">0.20</text>
</g>
<text x="233.3" y="831.5" font-size="8.3" text-anchor="middle">Rich factor</text>
<circle cx="286" cy="667.7" r="0.8" fill="#5aa8e6"/>
<circle cx="252.7" cy="680.7" r="1.2" fill="#4a95d0"/>
<circle cx="221.7" cy="694.3" r="0.8" fill="#5aa8e6"/>
<circle cx="211" cy="707.7" r="1.6" fill="#1d3f66"/>
<circle cx="200.3" cy="721.3" r="2" fill="#1a3556"/>
<circle cx="189.3" cy="735" r="2.2" fill="#16304f"/>
<circle cx="187.3" cy="748.3" r="2.3" fill="#1a3556"/>
<circle cx="186" cy="762" r="2.2" fill="#1a3a60"/>
<circle cx="184.3" cy="775.3" r="2.1" fill="#2d6aa8"/>
<circle cx="182" cy="789" r="2.7" fill="#17314f"/>
<circle cx="174" cy="802.3" r="2.6" fill="#3a7fc0"/>
<text x="298" y="670.7" font-size="8.3"><tspan font-style="italic">P</tspan> value</text>
<rect x="300" y="674.3" width="10" height="49" fill="url(#pval)"/>
<g stroke="#222" stroke-width="0.8">
<line x1="308" y1="678.3" x2="311" y2="678.3"/><line x1="308" y1="691.3" x2="311" y2="691.3"/><line x1="308" y1="705" x2="311" y2="705"/><line x1="308" y1="718.3" x2="311" y2="718.3"/>
</g>
<g font-size="8" fill="#222">
<text x="311.5" y="681.3">0.04</text><text x="311.5" y="694.3">0.03</text><text x="311.5" y="708">0.02</text><text x="311.5" y="721.3">0.01</text>
</g>
<text x="299" y="740.5" font-size="8.3">Count</text>
<g fill="#111">
<circle cx="303" cy="747.7" r="0.7"/><circle cx="303" cy="756.7" r="1.2"/><circle cx="303" cy="765.7" r="1.6"/><circle cx="303" cy="775" r="1.9"/><circle cx="303" cy="785" r="2.2"/><circle cx="303" cy="794.3" r="2.5"/><circle cx="303" cy="804.3" r="2.8"/>
</g>
<g font-size="8.3">
<text x="308" y="750.7">2</text><text x="308" y="759.7">3</text><text x="308" y="768.7">4</text><text x="308" y="778">5</text><text x="308" y="788">6</text><text x="308" y="797.3">7</text><text x="308" y="807.3">8</text>
</g>

<!-- ===== Panel (k) ===== -->
<text x="357" y="657" font-size="11">(k)</text>
<rect x="379.3" y="657.7" width="38.4" height="164" fill="#a2191f"/>
<rect x="418.3" y="657.7" width="40" height="164" fill="#fbe0d5"/>
<g stroke="#fff" stroke-width="1">
<line x1="379" y1="668.6" x2="459" y2="668.6"/><line x1="379" y1="679.6" x2="459" y2="679.6"/><line x1="379" y1="690.5" x2="459" y2="690.5"/><line x1="379" y1="701.4" x2="459" y2="701.4"/><line x1="379" y1="712.4" x2="459" y2="712.4"/><line x1="379" y1="723.3" x2="459" y2="723.3"/><line x1="379" y1="734.2" x2="459" y2="734.2"/><line x1="379" y1="745.1" x2="459" y2="745.1"/><line x1="379" y1="756.1" x2="459" y2="756.1"/><line x1="379" y1="767" x2="459" y2="767"/><line x1="379" y1="777.9" x2="459" y2="777.9"/><line x1="379" y1="788.9" x2="459" y2="788.9"/><line x1="379" y1="799.8" x2="459" y2="799.8"/><line x1="379" y1="810.7" x2="459" y2="810.7"/>
<line x1="418" y1="657" x2="418" y2="822"/>
</g>
<g font-size="8.8" text-anchor="middle" fill="#fff">
<text x="398.5" y="666.4">5.21</text><text x="398.5" y="677.3">1.29</text><text x="398.5" y="688.2">1.62</text><text x="398.5" y="699.2">4.58</text><text x="398.5" y="710.1">6.3</text><text x="398.5" y="721">20.44</text><text x="398.5" y="732">5.9</text><text x="398.5" y="742.9">11.5</text><text x="398.5" y="753.8">16.83</text><text x="398.5" y="764.7">266.82</text><text x="398.5" y="775.7">5833</text><text x="398.5" y="786.6">4.46</text><text x="398.5" y="797.5">13.89</text><text x="398.5" y="808.5">5.4</text><text x="398.5" y="819.4">13.09</text>
</g>
<g font-size="8.8" text-anchor="middle" fill="#111">
<text x="438.3" y="666.4">2.4</text><text x="438.3" y="677.3">0.36</text><text x="438.3" y="688.2">0.22</text><text x="438.3" y="699.2">2.06</text><text x="438.3" y="710.1">2.96</text><text x="438.3" y="721">7.52</text><text x="438.3" y="732">2.22</text><text x="438.3" y="742.9">1.31</text><text x="438.3" y="753.8">6.3</text><text x="438.3" y="764.7">56.74</text><text x="438.3" y="775.7">1203</text><text x="438.3" y="786.6">1.07</text><text x="438.3" y="797.5">5.33</text><text x="438.3" y="808.5">0.19</text><text x="438.3" y="819.4">5.64</text>
</g>
<g font-size="8.8" font-style="italic" fill="#111">
<text x="460.5" y="666.4">CsaV3_7G000620</text><text x="460.5" y="677.3">CsaV3_7G000630</text><text x="460.5" y="688.2">CsaV3_7G000600</text><text x="460.5" y="699.2">CsaV3_6G007970</text><text x="460.5" y="710.1">CsaV3_3G049240</text><text x="460.5" y="721">CsaV3_7G027600</text><text x="460.5" y="732">CsaV3_3G026280</text><text x="460.5" y="742.9">CsaV3_2G032150</text><text x="460.5" y="753.8">CsaV3_6G033800</text><text x="460.5" y="764.7">CsaV3_1G038820</text><text x="460.5" y="775.7">CsaV3_6G050280</text><text x="460.5" y="786.6">CsaV3_3G030890</text><text x="460.5" y="797.5">CsaV3_4G032410</text><text x="460.5" y="808.5">CsaV3_6G040170</text><text x="460.5" y="819.4">CsaV3_6G033750</text>
</g>
<g stroke="#222" stroke-width="2">
<line x1="539" y1="659" x2="539" y2="711"/><line x1="539" y1="713.5" x2="539" y2="744"/><line x1="539" y1="747" x2="539" y2="754.5"/><line x1="539" y1="757.5" x2="539" y2="787.5"/><line x1="539" y1="790.5" x2="539" y2="809"/><line x1="539" y1="812.5" x2="539" y2="820"/>
</g>
<g font-size="8.8" fill="#111">
<text x="542.5" y="688.2">SAUR</text><text x="542.5" y="732">IAA</text><text x="542.5" y="753.8">MADS</text><text x="542.5" y="775.7">DRM</text><text x="542.5" y="803">UGT</text><text x="542.5" y="819.4">CYP78A5</text>
</g>
<text x="382" y="831.5" font-size="8.8">CG104</text>
<text x="417" y="831.5" font-size="8.8"><tspan font-style="italic">CsCEPR1</tspan>-OE</text>
<rect x="599.3" y="672.3" width="8" height="20.7" fill="#a11c21"/>
<rect x="599.3" y="693" width="8" height="20.7" fill="#d42c25"/>
<rect x="599.3" y="713.7" width="8" height="20.7" fill="#ea6148"/>
<rect x="599.3" y="734.4" width="8" height="20.7" fill="#f08a70"/>
<rect x="599.3" y="755.1" width="8" height="20.7" fill="#f5b19c"/>
<rect x="599.3" y="775.8" width="8" height="20.9" fill="#fbdcd0"/>
<g font-size="8.5" fill="#111">
<text x="610" y="685.7">0.6</text><text x="610" y="703">0.4</text><text x="610" y="720.7">0.2</text><text x="610" y="738">0</text><text x="610" y="755.7">−0.2</text><text x="610" y="773">−0.4</text><text x="610" y="790.7">−0.6</text>
</g>
<text transform="translate(593,731.7) rotate(-90)" font-size="8.5" text-anchor="middle">Normalized FPKM</text>

<!-- ===== Panel (l) ===== -->
<text x="652" y="657" font-size="11">(l)</text>
<line x1="700" y1="656.7" x2="700" y2="815.7" stroke="#222" stroke-width="1.2"/>
<line x1="700" y1="815.7" x2="810" y2="815.7" stroke="#222" stroke-width="1.2"/>
<g stroke="#222" stroke-width="1">
<line x1="696" y1="680" x2="700" y2="680"/><line x1="696" y1="726" x2="700" y2="726"/><line x1="696" y1="772.3" x2="700" y2="772.3"/><line x1="696" y1="814" x2="700" y2="814"/>
<line x1="730" y1="815.7" x2="730" y2="819"/><line x1="781.7" y1="815.7" x2="781.7" y2="819"/>
</g>
<g font-size="8.8" text-anchor="end"><text x="693.5" y="683.2">10</text><text x="693.5" y="729.2">9</text><text x="693.5" y="775.5">8</text><text x="693.5" y="817.2">0</text></g>
<text transform="translate(681,745) rotate(-90)" font-size="8.3" text-anchor="middle">Indoleacetic acid (ng/g)</text>
<g stroke="#1a75c2" stroke-width="1.3" fill="none">
<rect x="712.3" y="694.3" width="36" height="31.7"/>
<line x1="712.3" y1="698.3" x2="748.3" y2="698.3"/>
<line x1="730" y1="688" x2="730" y2="694.3"/>
<line x1="730" y1="726" x2="730" y2="753.3"/>
</g>
<circle cx="736" cy="687.3" r="1" fill="#1a75c2"/><circle cx="726" cy="688.5" r="0.8" fill="#1a75c2"/><circle cx="728.3" cy="753.3" r="1" fill="#1a75c2"/>
<g stroke="#d0202e" stroke-width="1.3" fill="none">
<rect x="763.3" y="771.7" width="36" height="21.6"/>
<line x1="763.3" y1="776.7" x2="799.3" y2="776.7"/>
<line x1="781.3" y1="767.7" x2="781.3" y2="771.7"/>
<line x1="781.3" y1="793.3" x2="781.3" y2="809"/>
</g>
<circle cx="771.7" cy="767" r="1" fill="#d0202e"/><circle cx="789.3" cy="777.3" r="0.9" fill="#d0202e"/><circle cx="790" cy="806.7" r="1" fill="#d0202e"/>
<path d="M730,680 V673.3 H781.7 V680" fill="none" stroke="#222" stroke-width="1.2"/>
<text x="756" y="671.5" font-size="8" text-anchor="middle">*</text>
<text x="730" y="830.5" font-size="8.8" text-anchor="middle">CG104</text>
<text x="781.7" y="830.5" font-size="8.8" text-anchor="middle"><tspan font-style="italic">CsCEPR1</tspan>-OE</text>
</svg>
</body></html>
